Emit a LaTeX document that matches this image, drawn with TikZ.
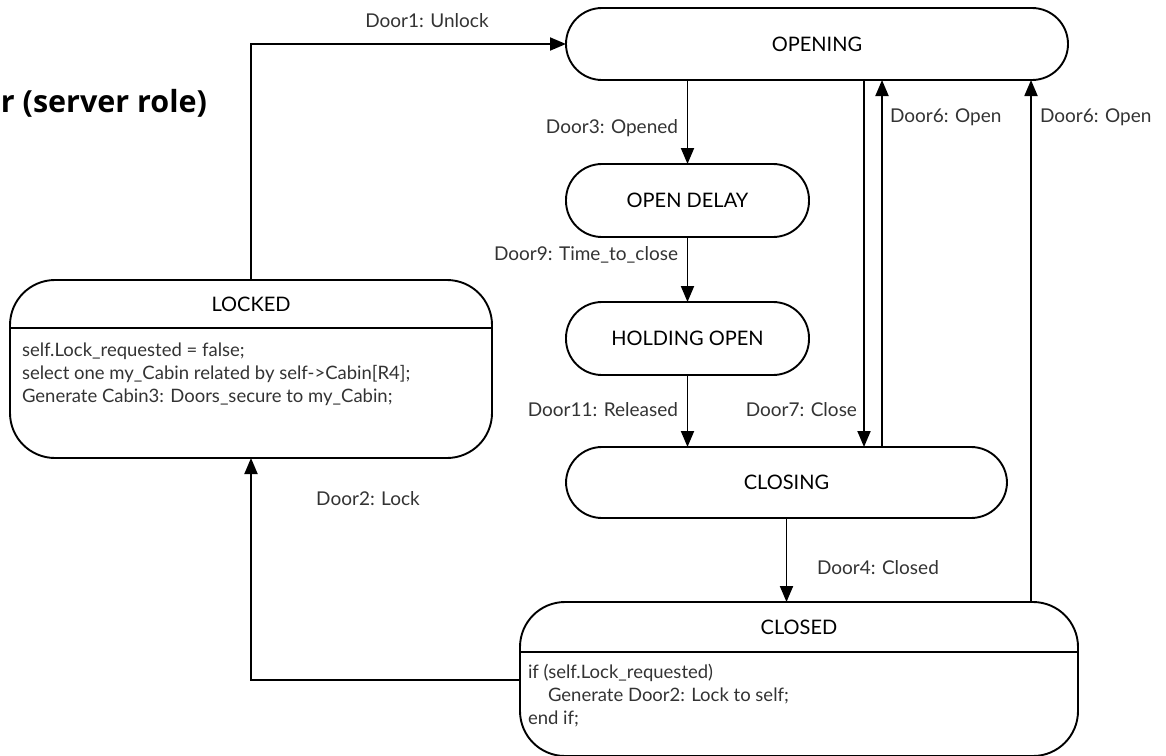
\documentclass[tikz,border=0pt]{standalone}
\usepackage{fontspec}
\setmainfont{Lato}
\newfontfamily\headingfont{Open Sans}
\usetikzlibrary{arrows.meta}
\definecolor{labelgrey}{HTML}{333333}
\begin{document}
\begin{tikzpicture}[x=1pt,y=-1pt,
  every node/.style={inner sep=0pt, outer sep=0pt},
  boxline/.style={line width=1.9pt},
  state/.style={draw, boxline, rounded corners=36pt, font=\fontsize{20}{24}\selectfont},
  cstate/.style={draw, boxline, rounded corners=45pt},
  stitle/.style={font=\fontsize{20}{24}\selectfont},
  body/.style={font=\fontsize{18.5}{23}\selectfont, text=labelgrey, align=left, anchor=north west},
  lbl/.style={font=\fontsize{19}{22}\selectfont, text=labelgrey},
  arr/.style={boxline, -{Triangle[length=16pt,width=13pt]}}]
\useasboundingbox (0,0) rectangle (1166,755);

% heading
\node[font=\headingfont\bfseries\fontsize{30.5}{36}\selectfont, anchor=east] (heading) at (207,103) {r (server role)};

% simple states
\node[state, minimum width=502pt, minimum height=72pt] (opening) at (817,44) {OPENING};
\node[state, minimum width=243pt, minimum height=73pt] (opendelay) at (687.5,200.5) {OPEN DELAY};
\node[state, minimum width=243pt, minimum height=73pt] (holding) at (687.5,338.5) {HOLDING OPEN};
\node[state, minimum width=441pt, minimum height=71pt] (closing) at (786.5,482.5) {CLOSING};

% states with entry actions
\node[cstate, minimum width=482pt, minimum height=178pt] (locked) at (251,369) {};
\draw[boxline] (locked.west |- 0,328) -- (locked.east |- 0,328);
\node[stitle] (lockedtitle) at (251,304) {LOCKED};
\node[body] (lockedbody) at (22,343) {self.Lock\_requested = false;\\
select one my\_Cabin related by self->Cabin[R4];\\
Generate Cabin3: Doors\_secure to my\_Cabin;};

\node[cstate, minimum width=558pt, minimum height=154pt] (closed) at (799,679) {};
\draw[boxline] (closed.west |- 0,652) -- (closed.east |- 0,652);
\node[stitle] (closedtitle) at (799,627) {CLOSED};
\node[body] (closedbody) at (528,664) {if (self.Lock\_requested)\\
\hspace*{20pt}Generate Door2: Lock to self;\\
end if;};

% transitions
\coordinate (xclose) at (864,0);
\coordinate (xopen) at (882,0);
\coordinate (xreopen) at (1031,0);

\draw[arr] (locked.north) |- (opening.west);
\draw[arr] (opening.south -| opendelay.north) -- (opendelay.north);
\draw[arr] (opendelay.south) -- (holding.north);
\draw[arr] (holding.south) -- (holding.south |- closing.north);
\draw[arr] (opening.south -| xclose) -- (closing.north -| xclose);
\draw[arr] (closing.north -| xopen) -- (opening.south -| xopen);
\draw[arr] (closing.south) -- (closing.south |- closed.north);
\draw[arr] (closed.north -| xreopen) -- (opening.south -| xreopen);
\draw[arr] (closed.west |- 0,680) -| (locked.south);

% transition labels
\node[lbl] (l1) at (427,21) {Door1: Unlock};
\node[lbl, anchor=east] (l3) at (678,128) {Door3: Opened};
\node[lbl, anchor=east] (l9) at (678,255) {Door9: Time\_to\_close};
\node[lbl, anchor=east] (l11) at (678,410) {Door11: Released};
\node[lbl, anchor=east] (l7) at (857,410) {Door7: Close};
\node[lbl, anchor=west] (l6) at (890,117) {Door6: Open};
\node[lbl, anchor=west] (l6b) at (1040,117) {Door6: Open};
\node[lbl, anchor=west] (l4) at (817,568) {Door4: Closed};
\node[lbl] (l2) at (368,499) {Door2: Lock};
\end{tikzpicture}
\end{document}
